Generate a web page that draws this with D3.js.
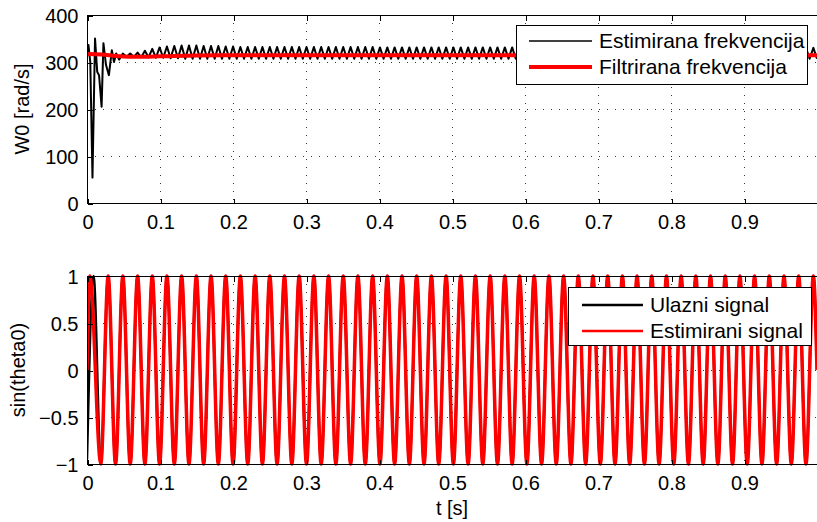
<!DOCTYPE html>
<html><head><meta charset="utf-8">
<script src="https://cdn.jsdelivr.net/npm/d3@7"></script>
<style>
body{margin:0;background:#fff}
svg{display:block}
text{font-family:"Liberation Sans",Arial,Helvetica,sans-serif;fill:#000}
</style>
</head><body>
<svg id="c" width="817" height="522"></svg>
<script>
// ---------- tick labels ----------
const xTicks = [0, 0.1, 0.2, 0.3, 0.4, 0.5, 0.6, 0.7, 0.8, 0.9];
const xTickLabels = ["0", "0.1", "0.2", "0.3", "0.4", "0.5", "0.6", "0.7", "0.8", "0.9"];
const yTicksTop = [0, 100, 200, 300, 400];
const yTickLabelsTop = ["0", "100", "200", "300", "400"];
const yTicksBot = [-1, -0.5, 0, 0.5, 1];
const yTickLabelsBot = ["\u22121", "\u22120.5", "0", "0.5", "1"];

// ---------- top panel: estimated frequency (transient) ----------
const freqTransT = [0, 0.002, 0.0045, 0.0075, 0.011, 0.014, 0.0165, 0.020, 0.0225, 0.026, 0.030, 0.034, 0.037, 0.040, 0.044];
const freqTransV = [312, 336, 300, 54, 350, 279, 272, 205, 340, 294, 272, 325, 300, 318, 305];

// times of sine peaks / troughs
const extremaT = [
0.0290, 0.0391, 0.0491, 0.0592, 0.0693, 0.0793, 0.0894, 0.0994, 0.1095, 0.1196,
0.1296, 0.1397, 0.1498, 0.1598, 0.1699, 0.1799, 0.1900, 0.2001, 0.2101, 0.2202,
0.2303, 0.2403, 0.2504, 0.2604, 0.2705, 0.2806, 0.2906, 0.3007, 0.3108, 0.3208,
0.3309, 0.3409, 0.3510, 0.3611, 0.3711, 0.3812, 0.3913, 0.4013, 0.4114, 0.4214,
0.4315, 0.4416, 0.4516, 0.4617, 0.4718, 0.4818, 0.4919, 0.5019, 0.5120, 0.5221,
0.5321, 0.5422, 0.5523, 0.5623, 0.5724, 0.5824, 0.5925, 0.6026, 0.6126, 0.6227,
0.6328, 0.6428, 0.6529, 0.6629, 0.6730, 0.6831, 0.6931, 0.7032, 0.7133, 0.7233,
0.7334, 0.7434, 0.7535, 0.7636, 0.7736, 0.7837, 0.7938, 0.8038, 0.8139, 0.8239,
0.8340, 0.8441, 0.8541, 0.8642, 0.8743, 0.8843, 0.8944, 0.9044, 0.9145, 0.9246,
0.9346, 0.9447, 0.9548, 0.9648, 0.9749, 0.9849, 0.9950];
const extremaV = [
1,-1,1,-1,1,-1,1,-1,1,-1,
1,-1,1,-1,1,-1,1,-1,1,-1,
1,-1,1,-1,1,-1,1,-1,1,-1,
1,-1,1,-1,1,-1,1,-1,1,-1,
1,-1,1,-1,1,-1,1,-1,1,-1,
1,-1,1,-1,1,-1,1,-1,1,-1,
1,-1,1,-1,1,-1,1,-1,1,-1,
1,-1,1,-1,1,-1,1,-1,1,-1,
1,-1,1,-1,1,-1,1,-1,1,-1,
1,-1,1,-1,1,-1,1];

// ripple of the estimated frequency: peaks at the sine extrema, troughs at zero crossings
const ripplePeakT = extremaT.slice(2);
const ripplePeakV = [
318,318,320,324,328,331,333,334,335,335,
335,334,334,334,333,333,332,332,332,332,
332,332,332,332,332,332,332,332,332,332,
332,332,332,332,332,331,331,331,331,331,
331,331,331,331,331,331,331,331,331,331,
331,331,331,331,331,330,330,330,330,330,
330,330,330,330,330,330,330,330,330,330,
330,330,330,330,330,330,330,330,330,330,
330,330,330,330,330,330,330,330,330,330,
330,330,330,330,330];
const rippleTroughT = [
0.0541, 0.0642, 0.0743, 0.0843, 0.0944, 0.1044, 0.1145, 0.1246, 0.1346, 0.1447,
0.1548, 0.1648, 0.1749, 0.1849, 0.1950, 0.2051, 0.2151, 0.2252, 0.2353, 0.2453,
0.2554, 0.2654, 0.2755, 0.2856, 0.2956, 0.3057, 0.3158, 0.3258, 0.3359, 0.3459,
0.3560, 0.3661, 0.3761, 0.3862, 0.3963, 0.4063, 0.4164, 0.4264, 0.4365, 0.4466,
0.4566, 0.4667, 0.4768, 0.4868, 0.4969, 0.5069, 0.5170, 0.5271, 0.5371, 0.5472,
0.5573, 0.5673, 0.5774, 0.5874, 0.5975, 0.6076, 0.6176, 0.6277, 0.6378, 0.6478,
0.6579, 0.6679, 0.6780, 0.6881, 0.6981, 0.7082, 0.7183, 0.7283, 0.7384, 0.7484,
0.7585, 0.7686, 0.7786, 0.7887, 0.7988, 0.8088, 0.8189, 0.8289, 0.8390, 0.8491,
0.8591, 0.8692, 0.8793, 0.8893, 0.8994, 0.9094, 0.9195, 0.9296, 0.9396, 0.9497,
0.9598, 0.9698, 0.9799, 0.9899, 1.0000];
const rippleTroughV = [
311,311,310,310,309,309,308,308,307,307,
307,307,307,307,307,307,307,307,307,307,
307,307,307,307,307,307,307,307,307,307,
307,307,307,307,307,307,307,307,307,307,
307,307,307,307,307,307,307,307,307,307,
307,307,307,307,307,307,307,307,307,307,
307,307,307,307,307,307,307,307,307,307,
307,307,307,307,307,307,307,307,307,307,
307,307,307,307,307,307,307,307,307,307,
307,307,307,307,307];

// filtered frequency
const filtT = [0, 0.02, 0.04, 0.07, 0.1, 0.15, 0.25, 1.0];
const filtV = [317, 316, 313, 311, 312, 314, 314.5, 314.5];

// ---------- bottom panel: input & estimated signal ----------
const inStartT = [0, 0.009, 0.0189];
const inStartV = [-0.95, 1, -1];
const estStartT = [0, 0.004, 0.0189];
const estStartV = [0, 1, -1];
const sigEndT = [1.0];
const sigEndV = [0];

const legendTop = ["Estimirana frekvencija", "Filtrirana frekvencija"];
const legendBot = ["Ulazni signal", "Estimirani signal"];

// ---------- build ----------
const W = 817, H = 522;
const svg = d3.select("#c");
svg.append("rect").attr("width", W).attr("height", H).attr("fill", "#fff");

const x = d3.scaleLinear().domain([0, 1]).range([87, 817]);
const yTop = d3.scaleLinear().domain([0, 400]).range([203, 15]);
const yBot = d3.scaleLinear().domain([-1, 1]).range([464, 276]);

const zip = (t, v) => t.map((d, i) => [d, v[i]]);

const freqPts = zip(freqTransT, freqTransV);
ripplePeakT.forEach((t, i) => {
  freqPts.push([t, ripplePeakV[i]]);
  freqPts.push([rippleTroughT[i], rippleTroughV[i]]);
});
const filtPts = zip(filtT, filtV);
const extremaPts = zip(extremaT, extremaV);
const inPts = zip(inStartT, inStartV).concat(extremaPts, zip(sigEndT, sigEndV));
const estPts = zip(estStartT, estStartV).concat(extremaPts, zip(sigEndT, sigEndV));

function panel(id, y, yTicks, yLabels, series, legend, leg) {
  const [y1, y0] = y.range().slice().sort((a, b) => a - b);
  const g = svg.append("g");
  // grid
  const grid = g.append("g").attr("stroke", "#333").attr("stroke-width", 1)
    .attr("stroke-dasharray", "1,7").attr("shape-rendering", "crispEdges");
  xTicks.filter(d => d > 0).forEach(d => {
    grid.append("line").attr("x1", Math.round(x(d)) + 0.5).attr("x2", Math.round(x(d)) + 0.5)
      .attr("y1", y1).attr("y2", y0);
  });
  yTicks.slice(1, -1).forEach(d => {
    grid.append("line").attr("y1", Math.round(y(d)) + 0.5).attr("y2", Math.round(y(d)) + 0.5)
      .attr("x1", x(0)).attr("x2", x(1));
  });
  // clip
  svg.append("clipPath").attr("id", id).append("rect")
    .attr("x", x(0)).attr("y", y1 - 2).attr("width", x(1) - x(0)).attr("height", y0 - y1 + 4);
  const plot = g.append("g").attr("clip-path", `url(#${id})`);
  series.forEach(s => {
    plot.append("path").datum(s.pts)
      .attr("fill", "none").attr("stroke", s.color).attr("stroke-width", s.w)
      .attr("stroke-linejoin", "round")
      .attr("d", d3.line().x(d => x(d[0])).y(d => y(d[1])).curve(s.curve));
  });
  // frame
  g.append("rect").attr("x", x(0) + 0.5).attr("y", y1 + 0.5)
    .attr("width", x(1) - x(0)).attr("height", y0 - y1)
    .attr("fill", "none").attr("stroke", "#000").attr("stroke-width", 1)
    .attr("shape-rendering", "crispEdges");
  // axes
  const ab = g.append("g").attr("transform", `translate(0.5,${y0 + 0.5})`)
    .call(d3.axisBottom(x).tickValues(xTicks).tickSize(-5).tickFormat((d, i) => xTickLabels[i]));
  const at = g.append("g").attr("transform", `translate(0.5,${y1 + 0.5})`)
    .call(d3.axisTop(x).tickValues(xTicks).tickSize(-5).tickFormat(""));
  const al = g.append("g").attr("transform", `translate(${x(0) + 0.5},0.5)`)
    .call(d3.axisLeft(y).tickValues(yTicks).tickSize(-5).tickFormat((d, i) => yLabels[i]));
  [ab, at, al].forEach(a => {
    a.select(".domain").remove();
    a.attr("font-family", null).attr("font-size", null);
    a.selectAll("line").attr("stroke", "#000").attr("shape-rendering", "crispEdges");
  });
  ab.selectAll("text").attr("y", 25).attr("dy", null).style("font-size", "20px");
  al.selectAll("text").attr("x", -9).attr("dy", "0.35em").style("font-size", "20px");
  // legend
  const lg = g.append("g");
  lg.append("rect").attr("x", leg.x + 0.5).attr("y", leg.y + 0.5).attr("width", leg.w).attr("height", leg.h)
    .attr("fill", "#fff").attr("stroke", "#000").attr("stroke-width", 1).attr("shape-rendering", "crispEdges");
  legend.forEach((txt, i) => {
    const s = series[i];
    const ly = leg.rows[i];
    lg.append("line").attr("x1", leg.l1).attr("x2", leg.l2).attr("y1", ly).attr("y2", ly)
      .attr("stroke", s.color).attr("stroke-width", s.lw);
    lg.append("text").attr("x", leg.tx).attr("y", ly + 7).style("font-size", "21px").text(txt);
  });
}

panel("clipTop", yTop, yTicksTop, yTickLabelsTop,
  [{pts: freqPts, color: "#000", w: 2, lw: 1.4, curve: d3.curveLinear},
   {pts: filtPts, color: "#ff0000", w: 4, lw: 4, curve: d3.curveMonotoneX}],
  legendTop, {x: 516, y: 25, w: 291, h: 59, l1: 529, l2: 592, tx: 599, rows: [41, 67]});

panel("clipBot", yBot, yTicksBot, yTickLabelsBot,
  [{pts: inPts, color: "#000", w: 2.5, lw: 2.6, curve: d3.curveMonotoneX},
   {pts: estPts, color: "#ff0000", w: 3.5, lw: 2.6, curve: d3.curveMonotoneX}],
  legendBot, {x: 568, y: 287, w: 243, h: 58, l1: 582, l2: 643, tx: 650, rows: [305, 331]});

// axis titles
svg.append("text").attr("transform", "translate(29,109) rotate(-90)")
  .attr("text-anchor", "middle").style("font-size", "20px").text("W0 [rad/s]");
svg.append("text").attr("transform", "translate(25,370) rotate(-90)")
  .attr("text-anchor", "middle").style("font-size", "20px").text("sin(theta0)");
svg.append("text").attr("x", 452).attr("y", 515)
  .attr("text-anchor", "middle").style("font-size", "20px").text("t [s]");
</script>
</body></html>
